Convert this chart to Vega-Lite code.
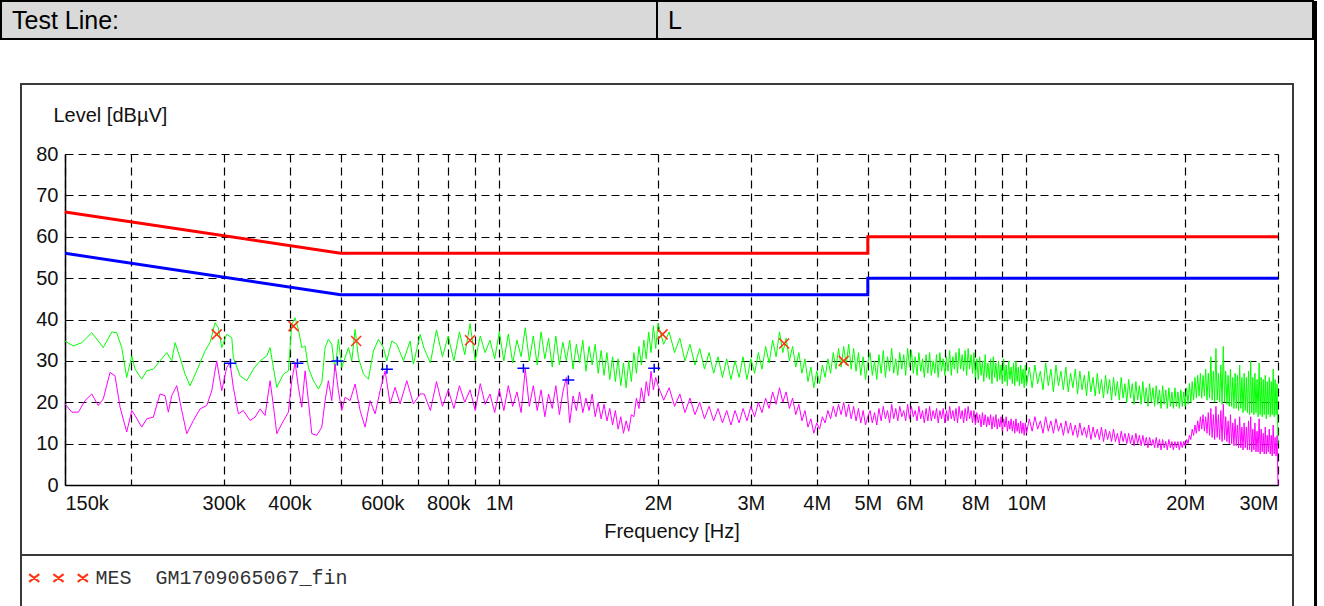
{
"$schema": "https://vega.github.io/schema/vega-lite/v6.json",
"padding": 0,
"background": "#ffffff",
"config": {"font": "Liberation Sans", "view": {"stroke": null}},
"datasets": {
"qp": [
{"f":150000,"v":34.8},{"f":155500,"v":33.6},{"f":161400,"v":34.4},{"f":168600,"v":36.8},{"f":173500,"v":34.8},{"f":177300,"v":33.2},{"f":184000,"v":37},{"f":188000,"v":36.8},{"f":192200,"v":33.2},{"f":196400,"v":26},{"f":200800,"v":31.2},{"f":203700,"v":28},{"f":209700,"v":25.6},{"f":214400,"v":27.6},{"f":220600,"v":28},{"f":227200,"v":30},{"f":234000,"v":32},{"f":239100,"v":30},{"f":242600,"v":34.4},{"f":247900,"v":30.8},{"f":253400,"v":26.8},{"f":259000,"v":24},{"f":266700,"v":27.6},{"f":276500,"v":32.4},{"f":282600,"v":34.4},{"f":288900,"v":39.2},{"f":293100,"v":38},{"f":297500,"v":33.2},{"f":304000,"v":36.4},{"f":310800,"v":35.6},{"f":312900,"v":30.8},{"f":322200,"v":26.4},{"f":331800,"v":25.2},{"f":341500,"v":28},{"f":351700,"v":30},{"f":362100,"v":31.2},{"f":367400,"v":33.2},{"f":372700,"v":28.4},{"f":378300,"v":23.6},{"f":389400,"v":26.8},{"f":398000,"v":27.6},{"f":403900,"v":38.8},{"f":409800,"v":40.4},{"f":415800,"v":37.6},{"f":422000,"v":33.2},{"f":428100,"v":33.6},{"f":434300,"v":28.4},{"f":443900,"v":25.2},{"f":453700,"v":23.2},{"f":460500,"v":24.8},{"f":467200,"v":33.2},{"f":473900,"v":35.2},{"f":481000,"v":34},{"f":488000,"v":27.6},{"f":495100,"v":35.2},{"f":502500,"v":28.4},{"f":517300,"v":33.2},{"f":525000,"v":30},{"f":532600,"v":37.6},{"f":540400,"v":30.8},{"f":552300,"v":26.8},{"f":564500,"v":25.6},{"f":577000,"v":32.4},{"f":589700,"v":35.2},{"f":602700,"v":33.2},{"f":611700,"v":30},{"f":625200,"v":34.8},{"f":639100,"v":34},{"f":657800,"v":30},{"f":677300,"v":34.8},{"f":687100,"v":29.2},{"f":707600,"v":36.4},
{"f":720000,"v":33},{"f":740000,"v":29.5},{"f":760000,"v":37.5},{"f":780000,"v":31},{"f":800000,"v":36},{"f":820000,"v":30},{"f":840000,"v":37},{"f":860000,"v":31.5},{"f":880000,"v":39},{"f":900000,"v":30},{"f":920000,"v":36},{"f":940000,"v":32},{"f":960000,"v":35},{"f":980000,"v":30.5},{"f":1000000,"v":37},
{"f":1020000,"v":30},{"f":1040000,"v":36.5},{"f":1060000,"v":29.5},{"f":1080000,"v":35},{"f":1100000,"v":31},{"f":1120000,"v":38},{"f":1140000,"v":30},{"f":1160000,"v":36},{"f":1180000,"v":29},{"f":1200000,"v":37},{"f":1220000,"v":30.5},{"f":1240000,"v":35.5},{"f":1260000,"v":28.5},{"f":1280000,"v":36},{"f":1300000,"v":29},{"f":1320000,"v":34.5},{"f":1340000,"v":30},{"f":1360000,"v":35},{"f":1380000,"v":28},{"f":1400000,"v":34},{"f":1420000,"v":29.5},{"f":1440000,"v":35},{"f":1460000,"v":27.5},{"f":1480000,"v":33.5},{"f":1500000,"v":29},{"f":1520000,"v":34},{"f":1540000,"v":27},{"f":1560000,"v":32.5},{"f":1580000,"v":26.5},{"f":1600000,"v":32},{"f":1620000,"v":25.5},{"f":1640000,"v":31},{"f":1660000,"v":25},{"f":1680000,"v":30.5},{"f":1700000,"v":24},{"f":1720000,"v":29.5},{"f":1740000,"v":23.5},{"f":1760000,"v":30},{"f":1780000,"v":25},{"f":1800000,"v":32},{"f":1820000,"v":27},{"f":1840000,"v":33.5},{"f":1860000,"v":29},{"f":1880000,"v":35},{"f":1900000,"v":30.5},{"f":1920000,"v":37},{"f":1940000,"v":32},{"f":1960000,"v":38.5},{"f":1980000,"v":33},{"f":2000000,"v":39},
{"f":2050000,"v":34},{"f":2100000,"v":37},{"f":2150000,"v":32},{"f":2200000,"v":35.5},{"f":2250000,"v":30},{"f":2300000,"v":34},{"f":2350000,"v":29},{"f":2400000,"v":33},{"f":2450000,"v":28},{"f":2500000,"v":32},{"f":2550000,"v":27},{"f":2600000,"v":31},{"f":2650000,"v":26},{"f":2700000,"v":30.5},{"f":2750000,"v":25.5},{"f":2800000,"v":30},{"f":2850000,"v":26},{"f":2900000,"v":31},{"f":2950000,"v":25.5},{"f":3000000,"v":30.5},{"f":3050000,"v":27},{"f":3100000,"v":32},{"f":3150000,"v":28},{"f":3200000,"v":33.5},{"f":3250000,"v":29.5},{"f":3300000,"v":35},{"f":3350000,"v":31},{"f":3400000,"v":37},{"f":3450000,"v":32},{"f":3500000,"v":35.5},{"f":3550000,"v":30},{"f":3600000,"v":33.5},{"f":3650000,"v":28.5},{"f":3700000,"v":32},{"f":3750000,"v":27},{"f":3800000,"v":30.5},{"f":3850000,"v":25},{"f":3900000,"v":28.5},{"f":3950000,"v":23.5},{"f":4000000,"v":27.5},{"f":4050000,"v":24.5},{"f":4100000,"v":29},{"f":4150000,"v":26},{"f":4200000,"v":30.5},{"f":4250000,"v":27},{"f":4300000,"v":32},{"f":4350000,"v":28},{"f":4400000,"v":33},{"f":4450000,"v":28.5},{"f":4500000,"v":33.5},{"f":4550000,"v":29},{"f":4600000,"v":34},{"f":4650000,"v":28},{"f":4700000,"v":33},{"f":4750000,"v":27.5},{"f":4800000,"v":32},{"f":4850000,"v":26.5},{"f":4900000,"v":31},{"f":4950000,"v":25.5},{"f":5000000,"v":29.5},
{"f":5050000,"v":32},{"f":5100000,"v":26.5},{"f":5150000,"v":30},{"f":5200000,"v":25.5},{"f":5250000,"v":31.5},{"f":5300000,"v":27},{"f":5350000,"v":32.5},{"f":5400000,"v":26},{"f":5450000,"v":31},{"f":5500000,"v":27.5},{"f":5550000,"v":33},{"f":5600000,"v":27},{"f":5650000,"v":30.5},{"f":5700000,"v":26.5},{"f":5750000,"v":32},{"f":5800000,"v":28},{"f":5850000,"v":31.5},{"f":5900000,"v":26.5},{"f":5950000,"v":33},{"f":6000000,"v":28.5},{"f":6050000,"v":32.5},{"f":6100000,"v":27},{"f":6150000,"v":31},{"f":6200000,"v":26.5},{"f":6250000,"v":32},{"f":6300000,"v":27.5},{"f":6350000,"v":30.5},{"f":6400000,"v":26},{"f":6450000,"v":31.5},{"f":6500000,"v":27},{"f":6550000,"v":32},{"f":6600000,"v":26.5},{"f":6650000,"v":30},{"f":6700000,"v":27},{"f":6750000,"v":31.5},{"f":6800000,"v":26},{"f":6850000,"v":32},{"f":6900000,"v":27.5},{"f":6950000,"v":30.5},{"f":7000000,"v":26.5},{"f":7050000,"v":31},{"f":7100000,"v":27.5},{"f":7150000,"v":32.5},{"f":7200000,"v":26.5},{"f":7250000,"v":31},{"f":7300000,"v":28},{"f":7350000,"v":32},{"f":7400000,"v":27},{"f":7450000,"v":33},{"f":7500000,"v":28},{"f":7550000,"v":31.5},{"f":7600000,"v":27.5},{"f":7650000,"v":32.5},{"f":7700000,"v":26.5},{"f":7750000,"v":33},{"f":7800000,"v":28},{"f":7850000,"v":31.5},{"f":7900000,"v":27},{"f":7950000,"v":32},{"f":8000000,"v":26},{"f":8050000,"v":30.5},{"f":8100000,"v":25.5},{"f":8150000,"v":31},{"f":8200000,"v":26.5},{"f":8250000,"v":30},{"f":8300000,"v":25},{"f":8350000,"v":31.5},{"f":8400000,"v":26},{"f":8450000,"v":29.5},{"f":8500000,"v":25.5},{"f":8550000,"v":30.5},{"f":8600000,"v":24.5},{"f":8650000,"v":31},{"f":8700000,"v":26},{"f":8750000,"v":29.5},{"f":8800000,"v":25},{"f":8850000,"v":30},{"f":8900000,"v":25.5},{"f":8950000,"v":29},{"f":9000000,"v":24.5},{"f":9050000,"v":30.5},{"f":9100000,"v":25},{"f":9150000,"v":29},{"f":9200000,"v":24},{"f":9250000,"v":30},{"f":9300000,"v":25.5},{"f":9350000,"v":28.5},{"f":9400000,"v":24.5},{"f":9450000,"v":29.5},{"f":9500000,"v":24},{"f":9550000,"v":30},{"f":9600000,"v":25},{"f":9650000,"v":28.5},{"f":9700000,"v":24},{"f":9750000,"v":29},{"f":9800000,"v":24.5},{"f":9850000,"v":28},{"f":9900000,"v":23.5},{"f":9950000,"v":29},{"f":10000000,"v":24},
{"f":10125000,"v":28.5},{"f":10250000,"v":23.5},{"f":10375000,"v":29},{"f":10500000,"v":24.5},{"f":10625000,"v":27.5},{"f":10750000,"v":23},{"f":10875000,"v":29.5},{"f":11000000,"v":24},{"f":11125000,"v":28},{"f":11250000,"v":22.5},{"f":11375000,"v":29},{"f":11500000,"v":24},{"f":11625000,"v":27.5},{"f":11750000,"v":23},{"f":11875000,"v":28.5},{"f":12000000,"v":22.5},{"f":12125000,"v":27},{"f":12250000,"v":23.5},{"f":12375000,"v":28},{"f":12500000,"v":22},{"f":12625000,"v":27.5},{"f":12750000,"v":23},{"f":12875000,"v":26.5},{"f":13000000,"v":21.5},{"f":13125000,"v":27.5},{"f":13250000,"v":22.5},{"f":13375000,"v":26},{"f":13500000,"v":21.5},{"f":13625000,"v":27},{"f":13750000,"v":22},{"f":13875000,"v":25.5},{"f":14000000,"v":21},{"f":14125000,"v":26.5},{"f":14250000,"v":22},{"f":14375000,"v":25.5},{"f":14500000,"v":20.5},{"f":14625000,"v":26},{"f":14750000,"v":21.5},{"f":14875000,"v":25},{"f":15000000,"v":20.5},{"f":15125000,"v":26},{"f":15250000,"v":21},{"f":15375000,"v":24.5},{"f":15500000,"v":20},{"f":15625000,"v":25.5},{"f":15750000,"v":21},{"f":15875000,"v":24.5},{"f":16000000,"v":19.5},{"f":16125000,"v":25},{"f":16250000,"v":20.5},{"f":16375000,"v":24},{"f":16500000,"v":19.5},{"f":16625000,"v":25},{"f":16750000,"v":20},{"f":16875000,"v":23.5},{"f":17000000,"v":19},{"f":17125000,"v":24.5},{"f":17250000,"v":20},{"f":17375000,"v":23.5},{"f":17500000,"v":19},{"f":17625000,"v":24},{"f":17750000,"v":19.5},{"f":17875000,"v":23},{"f":18000000,"v":18.5},{"f":18125000,"v":24},{"f":18250000,"v":19.5},{"f":18375000,"v":23},{"f":18500000,"v":18.5},{"f":18625000,"v":23.5},{"f":18750000,"v":19},{"f":18875000,"v":22.5},{"f":19000000,"v":18.5},{"f":19125000,"v":23.5},{"f":19250000,"v":19},{"f":19375000,"v":22.5},{"f":19500000,"v":18.5},{"f":19625000,"v":23},{"f":19750000,"v":19},{"f":19875000,"v":22.5},{"f":20000000,"v":19},{"f":20125000,"v":23.5},{"f":20250000,"v":19.5},{"f":20375000,"v":24.5},{"f":20500000,"v":20},{"f":20625000,"v":25},{"f":20750000,"v":20.5},{"f":20875000,"v":26},{"f":21000000,"v":21},{"f":21125000,"v":26.5},{"f":21250000,"v":21.5},{"f":21375000,"v":27},{"f":21500000,"v":21},{"f":21625000,"v":26.5},{"f":21750000,"v":21.5},{"f":21875000,"v":28},{"f":22000000,"v":20.5},{"f":22125000,"v":27},{"f":22250000,"v":21},{"f":22375000,"v":31},{"f":22500000,"v":20.5},{"f":22625000,"v":27.5},{"f":22750000,"v":20},{"f":22875000,"v":33},{"f":23000000,"v":20.5},{"f":23125000,"v":27},{"f":23250000,"v":20},{"f":23375000,"v":29},{"f":23500000,"v":19.5},{"f":23625000,"v":33.5},{"f":23750000,"v":20},{"f":23875000,"v":27.5},{"f":24000000,"v":19.5},{"f":24125000,"v":26.5},{"f":24250000,"v":19},{"f":24375000,"v":28},{"f":24500000,"v":19},{"f":24625000,"v":26},{"f":24750000,"v":18.5},{"f":24875000,"v":27},{"f":25000000,"v":18.5},{"f":25125000,"v":26.5},{"f":25250000,"v":18},{"f":25375000,"v":29},{"f":25500000,"v":18.5},{"f":25625000,"v":26},{"f":25750000,"v":17.5},{"f":25875000,"v":27},{"f":26000000,"v":18},{"f":26125000,"v":26},{"f":26250000,"v":17.5},{"f":26375000,"v":27.5},{"f":26500000,"v":17},{"f":26625000,"v":30},{"f":26750000,"v":17.5},{"f":26875000,"v":26},{"f":27000000,"v":17},{"f":27125000,"v":27},{"f":27250000,"v":17.5},{"f":27375000,"v":25.5},{"f":27500000,"v":16.5},{"f":27625000,"v":29.5},{"f":27750000,"v":17},{"f":27875000,"v":26},{"f":28000000,"v":16.5},{"f":28125000,"v":25.5},{"f":28250000,"v":17},{"f":28375000,"v":26.5},{"f":28500000,"v":16},{"f":28625000,"v":25},{"f":28750000,"v":17},{"f":28875000,"v":26},{"f":29000000,"v":16.5},{"f":29125000,"v":25},{"f":29250000,"v":17},{"f":29375000,"v":28},{"f":29500000,"v":16.5},{"f":29625000,"v":25.5},{"f":29750000,"v":17},{"f":29875000,"v":24.5},{"f":30000000,"v":10}
],
"av": [
{"f":150000,"v":19.6},{"f":154500,"v":17.6},{"f":159000,"v":17.6},{"f":163700,"v":20.4},{"f":168600,"v":22},{"f":173500,"v":19.2},{"f":177300,"v":20.8},{"f":182600,"v":27.2},{"f":186600,"v":26.4},{"f":190800,"v":18.8},{"f":196400,"v":12.8},{"f":200800,"v":18},{"f":203700,"v":16.8},{"f":209700,"v":14},{"f":214400,"v":16},{"f":220600,"v":16.4},{"f":227200,"v":22},{"f":232200,"v":21.6},{"f":235600,"v":17.6},{"f":239100,"v":21.6},{"f":244400,"v":24},{"f":249800,"v":18},{"f":255300,"v":12.4},{"f":262800,"v":15.6},{"f":270600,"v":18.4},{"f":278600,"v":19.2},{"f":284800,"v":22.8},{"f":291000,"v":30},{"f":297500,"v":22.8},{"f":304000,"v":28.4},{"f":308400,"v":29.6},{"f":312900,"v":23.6},{"f":319900,"v":17.2},{"f":326900,"v":18},{"f":336600,"v":15.6},{"f":344100,"v":16.4},{"f":351700,"v":18.4},{"f":359400,"v":16.8},{"f":367400,"v":25.2},{"f":372700,"v":19.2},{"f":378300,"v":12.4},{"f":386700,"v":14.8},{"f":398000,"v":17.6},{"f":403900,"v":25.2},{"f":409800,"v":29.6},{"f":415800,"v":23.6},{"f":422000,"v":18.8},{"f":428100,"v":27.6},{"f":434300,"v":20.4},{"f":440800,"v":12.4},{"f":450500,"v":12},{"f":460500,"v":14},{"f":467200,"v":20.4},{"f":473900,"v":25.2},{"f":481000,"v":20.4},{"f":488000,"v":29.2},{"f":495100,"v":22.8},{"f":502500,"v":18},{"f":509800,"v":21.2},{"f":521100,"v":20.4},{"f":532600,"v":24.4},{"f":544400,"v":18},{"f":556400,"v":14},{"f":568700,"v":20.4},{"f":581300,"v":17.2},{"f":594100,"v":22.8},{"f":607200,"v":27.6},{"f":620600,"v":19.6},{"f":634300,"v":23.6},{"f":648300,"v":19.6},{"f":667600,"v":25.2},{"f":687100,"v":19.6},{"f":707600,"v":22},
{"f":720000,"v":22},{"f":740000,"v":18},{"f":760000,"v":25},{"f":780000,"v":19},{"f":800000,"v":23},{"f":820000,"v":18.5},{"f":840000,"v":24},{"f":860000,"v":20},{"f":880000,"v":23},{"f":900000,"v":18},{"f":920000,"v":24.5},{"f":940000,"v":19.5},{"f":960000,"v":22},{"f":980000,"v":17.5},{"f":1000000,"v":23},
{"f":1020000,"v":18},{"f":1040000,"v":24},{"f":1060000,"v":19},{"f":1080000,"v":22.5},{"f":1100000,"v":17.5},{"f":1120000,"v":28},{"f":1140000,"v":19},{"f":1160000,"v":24},{"f":1180000,"v":18},{"f":1200000,"v":23},{"f":1220000,"v":16.5},{"f":1240000,"v":22},{"f":1260000,"v":18.5},{"f":1280000,"v":24},{"f":1300000,"v":17},{"f":1320000,"v":22.5},{"f":1340000,"v":26},{"f":1360000,"v":15},{"f":1380000,"v":21.5},{"f":1400000,"v":18},{"f":1420000,"v":22.5},{"f":1440000,"v":17.5},{"f":1460000,"v":21},{"f":1480000,"v":18},{"f":1500000,"v":22},{"f":1520000,"v":16.5},{"f":1540000,"v":20},{"f":1560000,"v":16},{"f":1580000,"v":19.5},{"f":1600000,"v":15.5},{"f":1620000,"v":18.5},{"f":1640000,"v":14.5},{"f":1660000,"v":18},{"f":1680000,"v":13.5},{"f":1700000,"v":16.5},{"f":1720000,"v":12.5},{"f":1740000,"v":15.5},{"f":1760000,"v":13},{"f":1780000,"v":17},{"f":1800000,"v":16.5},{"f":1820000,"v":21},{"f":1840000,"v":18.5},{"f":1860000,"v":23.5},{"f":1880000,"v":20},{"f":1900000,"v":25},{"f":1920000,"v":21.5},{"f":1940000,"v":27.5},{"f":1960000,"v":23},{"f":1980000,"v":26},{"f":2000000,"v":24},
{"f":2050000,"v":20.5},{"f":2100000,"v":23.5},{"f":2150000,"v":19},{"f":2200000,"v":22},{"f":2250000,"v":17.5},{"f":2300000,"v":21},{"f":2350000,"v":17},{"f":2400000,"v":20},{"f":2450000,"v":16},{"f":2500000,"v":19},{"f":2550000,"v":15.5},{"f":2600000,"v":18.5},{"f":2650000,"v":15},{"f":2700000,"v":18},{"f":2750000,"v":14.5},{"f":2800000,"v":18},{"f":2850000,"v":15},{"f":2900000,"v":18.5},{"f":2950000,"v":15.5},{"f":3000000,"v":19},{"f":3050000,"v":16.5},{"f":3100000,"v":20},{"f":3150000,"v":17.5},{"f":3200000,"v":21},{"f":3250000,"v":18.5},{"f":3300000,"v":22.5},{"f":3350000,"v":19.5},{"f":3400000,"v":23.5},{"f":3450000,"v":20},{"f":3500000,"v":22.5},{"f":3550000,"v":18.5},{"f":3600000,"v":21},{"f":3650000,"v":17},{"f":3700000,"v":19.5},{"f":3750000,"v":15.5},{"f":3800000,"v":18},{"f":3850000,"v":14},{"f":3900000,"v":16},{"f":3950000,"v":12.5},{"f":4000000,"v":15},{"f":4050000,"v":13.5},{"f":4100000,"v":16.5},{"f":4150000,"v":15},{"f":4200000,"v":18},{"f":4250000,"v":16},{"f":4300000,"v":19},{"f":4350000,"v":16.5},{"f":4400000,"v":19.5},{"f":4450000,"v":17},{"f":4500000,"v":20},{"f":4550000,"v":16.5},{"f":4600000,"v":19.5},{"f":4650000,"v":16},{"f":4700000,"v":19},{"f":4750000,"v":15.5},{"f":4800000,"v":18.5},{"f":4850000,"v":15},{"f":4900000,"v":18},{"f":4950000,"v":14.5},{"f":5000000,"v":16.5},
{"f":5050000,"v":18},{"f":5100000,"v":15},{"f":5150000,"v":17.5},{"f":5200000,"v":14.5},{"f":5250000,"v":18.5},{"f":5300000,"v":15.5},{"f":5350000,"v":19},{"f":5400000,"v":16},{"f":5450000,"v":18},{"f":5500000,"v":15},{"f":5550000,"v":19.5},{"f":5600000,"v":16},{"f":5650000,"v":18.5},{"f":5700000,"v":15.5},{"f":5750000,"v":19},{"f":5800000,"v":16.5},{"f":5850000,"v":18},{"f":5900000,"v":15.5},{"f":5950000,"v":19.5},{"f":6000000,"v":16},{"f":6050000,"v":19},{"f":6100000,"v":16.5},{"f":6150000,"v":18},{"f":6200000,"v":15.5},{"f":6250000,"v":19},{"f":6300000,"v":16},{"f":6350000,"v":18},{"f":6400000,"v":15},{"f":6450000,"v":18.5},{"f":6500000,"v":15.5},{"f":6550000,"v":19},{"f":6600000,"v":15.5},{"f":6650000,"v":18},{"f":6700000,"v":16},{"f":6750000,"v":18.5},{"f":6800000,"v":15},{"f":6850000,"v":18},{"f":6900000,"v":16},{"f":6950000,"v":18.5},{"f":7000000,"v":15},{"f":7050000,"v":18},{"f":7100000,"v":15.5},{"f":7150000,"v":19},{"f":7200000,"v":16},{"f":7250000,"v":18},{"f":7300000,"v":15.5},{"f":7350000,"v":18.5},{"f":7400000,"v":15},{"f":7450000,"v":19},{"f":7500000,"v":16},{"f":7550000,"v":18},{"f":7600000,"v":15},{"f":7650000,"v":18.5},{"f":7700000,"v":15.5},{"f":7750000,"v":19},{"f":7800000,"v":16},{"f":7850000,"v":18},{"f":7900000,"v":15},{"f":7950000,"v":18},{"f":8000000,"v":14.5},{"f":8050000,"v":17.5},{"f":8100000,"v":15},{"f":8150000,"v":17},{"f":8200000,"v":14},{"f":8250000,"v":17.5},{"f":8300000,"v":14.5},{"f":8350000,"v":17},{"f":8400000,"v":14},{"f":8450000,"v":16.5},{"f":8500000,"v":14.5},{"f":8550000,"v":17},{"f":8600000,"v":13.5},{"f":8650000,"v":16.5},{"f":8700000,"v":14},{"f":8750000,"v":17},{"f":8800000,"v":13.5},{"f":8850000,"v":16},{"f":8900000,"v":14},{"f":8950000,"v":16.5},{"f":9000000,"v":13},{"f":9050000,"v":16},{"f":9100000,"v":14},{"f":9150000,"v":16.5},{"f":9200000,"v":13},{"f":9250000,"v":15.5},{"f":9300000,"v":13.5},{"f":9350000,"v":16},{"f":9400000,"v":13},{"f":9450000,"v":15.5},{"f":9500000,"v":12.5},{"f":9550000,"v":16},{"f":9600000,"v":13},{"f":9650000,"v":15},{"f":9700000,"v":12.5},{"f":9750000,"v":15.5},{"f":9800000,"v":12.5},{"f":9850000,"v":15},{"f":9900000,"v":12},{"f":9950000,"v":15},{"f":10000000,"v":12.5},
{"f":10125000,"v":16},{"f":10250000,"v":13},{"f":10375000,"v":16.5},{"f":10500000,"v":13.5},{"f":10625000,"v":15.5},{"f":10750000,"v":12.5},{"f":10875000,"v":16.5},{"f":11000000,"v":13},{"f":11125000,"v":15.5},{"f":11250000,"v":12.5},{"f":11375000,"v":16},{"f":11500000,"v":13},{"f":11625000,"v":15},{"f":11750000,"v":12},{"f":11875000,"v":15.5},{"f":12000000,"v":12.5},{"f":12125000,"v":15},{"f":12250000,"v":12},{"f":12375000,"v":14.5},{"f":12500000,"v":11.5},{"f":12625000,"v":15},{"f":12750000,"v":12},{"f":12875000,"v":14},{"f":13000000,"v":11.5},{"f":13125000,"v":14.5},{"f":13250000,"v":11},{"f":13375000,"v":14},{"f":13500000,"v":11.5},{"f":13625000,"v":13.5},{"f":13750000,"v":11},{"f":13875000,"v":14},{"f":14000000,"v":10.5},{"f":14125000,"v":13.5},{"f":14250000,"v":11},{"f":14375000,"v":13},{"f":14500000,"v":10.5},{"f":14625000,"v":13.5},{"f":14750000,"v":10.5},{"f":14875000,"v":12.5},{"f":15000000,"v":10},{"f":15125000,"v":13},{"f":15250000,"v":10.5},{"f":15375000,"v":12.5},{"f":15500000,"v":10},{"f":15625000,"v":12.5},{"f":15750000,"v":10},{"f":15875000,"v":12},{"f":16000000,"v":9.5},{"f":16125000,"v":12.5},{"f":16250000,"v":10},{"f":16375000,"v":12},{"f":16500000,"v":9.5},{"f":16625000,"v":12},{"f":16750000,"v":9.5},{"f":16875000,"v":11.5},{"f":17000000,"v":9},{"f":17125000,"v":11.5},{"f":17250000,"v":9.5},{"f":17375000,"v":11},{"f":17500000,"v":9},{"f":17625000,"v":11.5},{"f":17750000,"v":9},{"f":17875000,"v":11},{"f":18000000,"v":8.5},{"f":18125000,"v":11},{"f":18250000,"v":9},{"f":18375000,"v":10.5},{"f":18500000,"v":8.5},{"f":18625000,"v":11},{"f":18750000,"v":9},{"f":18875000,"v":10.5},{"f":19000000,"v":8.5},{"f":19125000,"v":10.5},{"f":19250000,"v":9},{"f":19375000,"v":10.5},{"f":19500000,"v":8.5},{"f":19625000,"v":10.5},{"f":19750000,"v":9},{"f":19875000,"v":10.5},{"f":20000000,"v":9.5},{"f":20125000,"v":11},{"f":20250000,"v":10},{"f":20375000,"v":12},{"f":20500000,"v":11},{"f":20625000,"v":13.5},{"f":20750000,"v":12},{"f":20875000,"v":14.5},{"f":21000000,"v":12.5},{"f":21125000,"v":15.5},{"f":21250000,"v":13},{"f":21375000,"v":16.5},{"f":21500000,"v":13.5},{"f":21625000,"v":17},{"f":21750000,"v":13},{"f":21875000,"v":16.5},{"f":22000000,"v":12.5},{"f":22125000,"v":17.5},{"f":22250000,"v":12},{"f":22375000,"v":18.5},{"f":22500000,"v":11.5},{"f":22625000,"v":17},{"f":22750000,"v":11},{"f":22875000,"v":19},{"f":23000000,"v":11.5},{"f":23125000,"v":17},{"f":23250000,"v":11},{"f":23375000,"v":18},{"f":23500000,"v":10.5},{"f":23625000,"v":19.5},{"f":23750000,"v":11},{"f":23875000,"v":16.5},{"f":24000000,"v":10.5},{"f":24125000,"v":15.5},{"f":24250000,"v":10},{"f":24375000,"v":17},{"f":24500000,"v":10},{"f":24625000,"v":15},{"f":24750000,"v":9.5},{"f":24875000,"v":16},{"f":25000000,"v":9.5},{"f":25125000,"v":14.5},{"f":25250000,"v":9},{"f":25375000,"v":16.5},{"f":25500000,"v":9},{"f":25625000,"v":14},{"f":25750000,"v":8.5},{"f":25875000,"v":15},{"f":26000000,"v":9},{"f":26125000,"v":14},{"f":26250000,"v":8.5},{"f":26375000,"v":15.5},{"f":26500000,"v":8.5},{"f":26625000,"v":16.5},{"f":26750000,"v":8},{"f":26875000,"v":13.5},{"f":27000000,"v":8.5},{"f":27125000,"v":15},{"f":27250000,"v":8},{"f":27375000,"v":13},{"f":27500000,"v":8},{"f":27625000,"v":16},{"f":27750000,"v":7.5},{"f":27875000,"v":13.5},{"f":28000000,"v":8},{"f":28125000,"v":12.5},{"f":28250000,"v":7.5},{"f":28375000,"v":14},{"f":28500000,"v":7.5},{"f":28625000,"v":12},{"f":28750000,"v":8},{"f":28875000,"v":13.5},{"f":29000000,"v":7.5},{"f":29125000,"v":12},{"f":29250000,"v":7},{"f":29375000,"v":14.5},{"f":29500000,"v":7.5},{"f":29625000,"v":11.5},{"f":29750000,"v":7},{"f":29875000,"v":12},{"f":30000000,"v":0}
],
"limqp": [{"f":150000,"v":66,"i":0},{"f":500000,"v":56,"i":1},{"f":5000000,"v":56,"i":2},{"f":5000000,"v":60,"i":3},{"f":30000000,"v":60,"i":4}],
"limav": [{"f":150000,"v":56,"i":0},{"f":500000,"v":46,"i":1},{"f":5000000,"v":46,"i":2},{"f":5000000,"v":50,"i":3},{"f":30000000,"v":50,"i":4}],
"mesqp": [{"f":291000,"v":36.4},{"f":407000,"v":38.4},{"f":535000,"v":34.8},{"f":880000,"v":35},{"f":2040000,"v":36.4},{"f":3470000,"v":34.2},{"f":4500000,"v":30}],
"mesav": [{"f":309000,"v":29.4},{"f":414000,"v":29.4},{"f":493000,"v":30},{"f":612000,"v":28},{"f":1111000,"v":28.2},{"f":1352000,"v":25.4},{"f":1967000,"v":28.2}]
},
"spacing": 0,
"hconcat": [
{
"vconcat": [
{
"width": 1312, "height": 83,
"view": {"stroke": null},
"data": {"values": [{"c": "Test Line:", "r": "b"}, {"c": "L", "r": "b"}]},
"encoding": {
"x": {"field": "c", "type": "nominal", "sort": null, "axis": null, "scale": {"paddingInner": 0, "paddingOuter": 0}},
"y": {"field": "r", "type": "nominal", "axis": null, "scale": {"domain": ["b", "g"], "range": [0, 76], "paddingInner": 0, "paddingOuter": 0}}
},
"layer": [
{"mark": {"type": "rect", "fill": "#d9d9d9", "stroke": "#000000", "strokeWidth": 2}},
{"mark": {"type": "text", "align": "left", "baseline": "middle", "dx": 11, "dy": 1, "fontSize": 25, "color": "#000000", "font": "Liberation Sans"},
 "encoding": {"x": {"field": "c", "type": "nominal", "sort": null, "bandPosition": 0}, "text": {"field": "c"}}}
]
},
{
"width": 1272, "height": 471,
"view": {"stroke": "#3a3a3a", "strokeWidth": 2},
"encoding": {
"x": {"field": "f", "type": "quantitative",
 "scale": {"type": "log", "domain": [150000, 30000000], "range": [44, 1257], "nice": false},
 "axis": {"values": [150000,200000,300000,400000,500000,600000,700000,800000,900000,1000000,2000000,3000000,4000000,5000000,6000000,7000000,8000000,9000000,10000000,20000000,30000000],
  "labelExpr": "indexof([200000,500000,700000,900000,7000000,9000000], datum.value) >= 0 ? '' : (datum.value >= 1000000 ? (datum.value/1000000) + 'M' : (datum.value/1000) + 'k')",
  "offset": -70, "ticks": false, "domainColor": "#000000", "domainWidth": 1.5,
  "grid": true, "gridColor": "#000000", "gridDash": [8, 5], "gridWidth": 1.2, "gridOpacity": 1,
  "labelFontSize": 20, "labelColor": "#111111", "labelFlush": true, "labelPadding": 8, "labelOverlap": false,
  "title": "Frequency [Hz]", "titleFontSize": 20, "titleFontWeight": "normal", "titleColor": "#111111", "titleY": 52, "titleBaseline": "alphabetic"}},
"y": {"field": "v", "type": "quantitative",
 "scale": {"domain": [0, 80], "range": [401, 70], "nice": false, "zero": false},
 "axis": {"values": [0,10,20,30,40,50,60,70,80], "offset": -44, "ticks": false, "domainColor": "#000000", "domainWidth": 1.5,
  "grid": true, "gridColor": "#000000", "gridDash": [8, 5], "gridWidth": 1.2, "gridOpacity": 1,
  "labelFontSize": 20, "labelColor": "#111111", "labelPadding": 7,
  "title": "Level [dBµV]", "titleAngle": 0, "titleAlign": "left", "titleBaseline": "alphabetic", "titleX": -12, "titleY": 37,
  "titleFontSize": 20, "titleFontWeight": "normal", "titleColor": "#111111"}}
},
"layer": [
{"data": {"name": "qp"}, "mark": {"type": "line", "color": "#00ff00", "strokeWidth": 1}},
{"data": {"name": "av"}, "mark": {"type": "line", "color": "#ff00ff", "strokeWidth": 1}},
{"data": {"name": "limqp"}, "mark": {"type": "line", "color": "#ff0000", "strokeWidth": 3}, "encoding": {"order": {"field": "i", "type": "quantitative"}}},
{"data": {"name": "limav"}, "mark": {"type": "line", "color": "#0000ff", "strokeWidth": 3}, "encoding": {"order": {"field": "i", "type": "quantitative"}}},
{"data": {"name": "mesav"}, "mark": {"type": "point", "shape": "M-1,0L1,0M0,-0.75L0,0.75", "size": 144, "filled": false, "color": "#0000ff", "strokeWidth": 1.5, "opacity": 1}},
{"data": {"name": "mesqp"}, "mark": {"type": "point", "shape": "M-1,-1L1,1M-1,1L1,-1", "size": 100, "filled": false, "strokeWidth": 1.5, "opacity": 1},
 "encoding": {"color": {"datum": "MES\u00a0\u00a0GM1709065067_fin", "type": "nominal", "scale": {"range": ["#ff3311"]},
  "legend": {"orient": "none", "legendX": 26.5, "legendY": 546, "title": null, "padding": 0,
   "symbolType": "M-0.98,-0.13L-0.64,0.13M-0.98,0.13L-0.64,-0.13M-0.17,-0.13L0.17,0.13M-0.17,0.13L0.17,-0.13M0.64,-0.13L0.98,0.13M0.64,0.13L0.98,-0.13",
   "symbolSize": 3600, "symbolStrokeWidth": 2, "symbolStrokeColor": "#ff3333", "symbolFillColor": "transparent",
   "labelFont": "Liberation Mono", "labelFontSize": 20, "labelColor": "#333333", "labelOffset": 6, "labelLimit": 600}}}}
]
},
{
"width": 1272, "height": 52,
"view": {"stroke": "#3a3a3a", "strokeWidth": 2},
"data": {"values": []},
"mark": "point"
}
],
"spacing": 0, "bounds": "flush", "center": true
},
{
"width": 3, "height": 606,
"view": {"fill": "#000000", "stroke": null},
"data": {"values": []},
"mark": "point"
}
]
}
